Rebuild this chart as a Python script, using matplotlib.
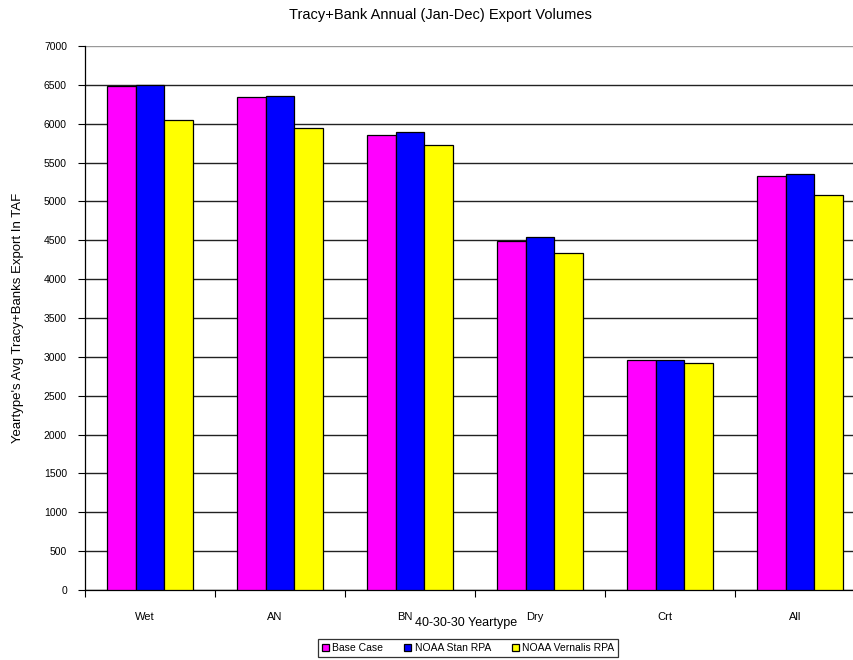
import matplotlib.pyplot as plt
import numpy as np

plt.rcParams['font.family'] = ['Liberation Sans', 'DejaVu Sans']

yeartypes = ['Wet', 'AN', 'BN', 'Dry', 'Crt', 'All']
base_case = [6490, 6340, 5860, 4490, 2960, 5330]
noaa_stan = [6495, 6360, 5890, 4545, 2960, 5350]
noaa_vernalis = [6050, 5950, 5720, 4340, 2925, 5080]

series = [('Base Case', base_case, '#ff00ff'),
          ('NOAA Stan RPA', noaa_stan, '#0000ff'),
          ('NOAA Vernalis RPA', noaa_vernalis, '#ffff00')]

W, H = 854, 660
fig = plt.figure(figsize=(W/100, H/100), dpi=100)
# plot area runs a bit past the right edge, as in the source picture
ax = fig.add_axes([85/W, 1-590/H, 780/W, 544/H])

x = np.arange(len(yeartypes))
bw = 1/4.5
for i, (name, vals, col) in enumerate(series):
    ax.bar(x + (i-1)*bw, vals, width=bw, color=col, edgecolor='black',
           linewidth=0.9, label=name, zorder=3)

ax.set_xlim(-0.5, len(yeartypes)-0.5)
ax.set_ylim(0, 7000)
ax.set_yticks(np.arange(0, 7001, 500))
ax.tick_params(axis='y', labelsize=7.5, length=5, width=0.8, pad=8)
ax.yaxis.grid(True, color='#222222', linewidth=1.0, zorder=0)
ax.get_ygridlines()[-1].set_color('#999999')  # top line is lighter
ax.set_xticks(np.arange(-0.5, len(yeartypes)))
ax.set_xticklabels([])
ax.tick_params(axis='x', length=5, width=0.8, direction='out')
for xi, lab in zip(x, yeartypes):
    ax.text(xi - 0.04, -0.05, lab, transform=ax.get_xaxis_transform(),
            ha='center', va='center', fontsize=8)
for s in ['top', 'right']:
    ax.spines[s].set_visible(False)
ax.spines['left'].set_linewidth(0.9)
ax.spines['bottom'].set_linewidth(0.9)

fig.text(466/W, 1-623/H, '40-30-30 Yeartype', ha='center', va='center', fontsize=9)
fig.text(440/W, 1-15/H, 'Tracy+Bank Annual (Jan-Dec) Export Volumes',
         ha='center', va='center', fontsize=10.5)
fig.text(18/W, 1-318/H, "Yeartype's Avg Tracy+Banks Export In TAF",
         rotation=90, ha='center', va='center', fontsize=9.5)

leg = fig.legend(loc='center', bbox_to_anchor=(468/W, 1-648/H), ncol=3,
                 fontsize=7.5, frameon=True, fancybox=False, edgecolor='black',
                 handlelength=0.7, handleheight=0.7, handletextpad=0.3,
                 columnspacing=2.0, borderpad=0.4)
leg.get_frame().set_linewidth(0.9)

fig.savefig('out.png', dpi=100)
